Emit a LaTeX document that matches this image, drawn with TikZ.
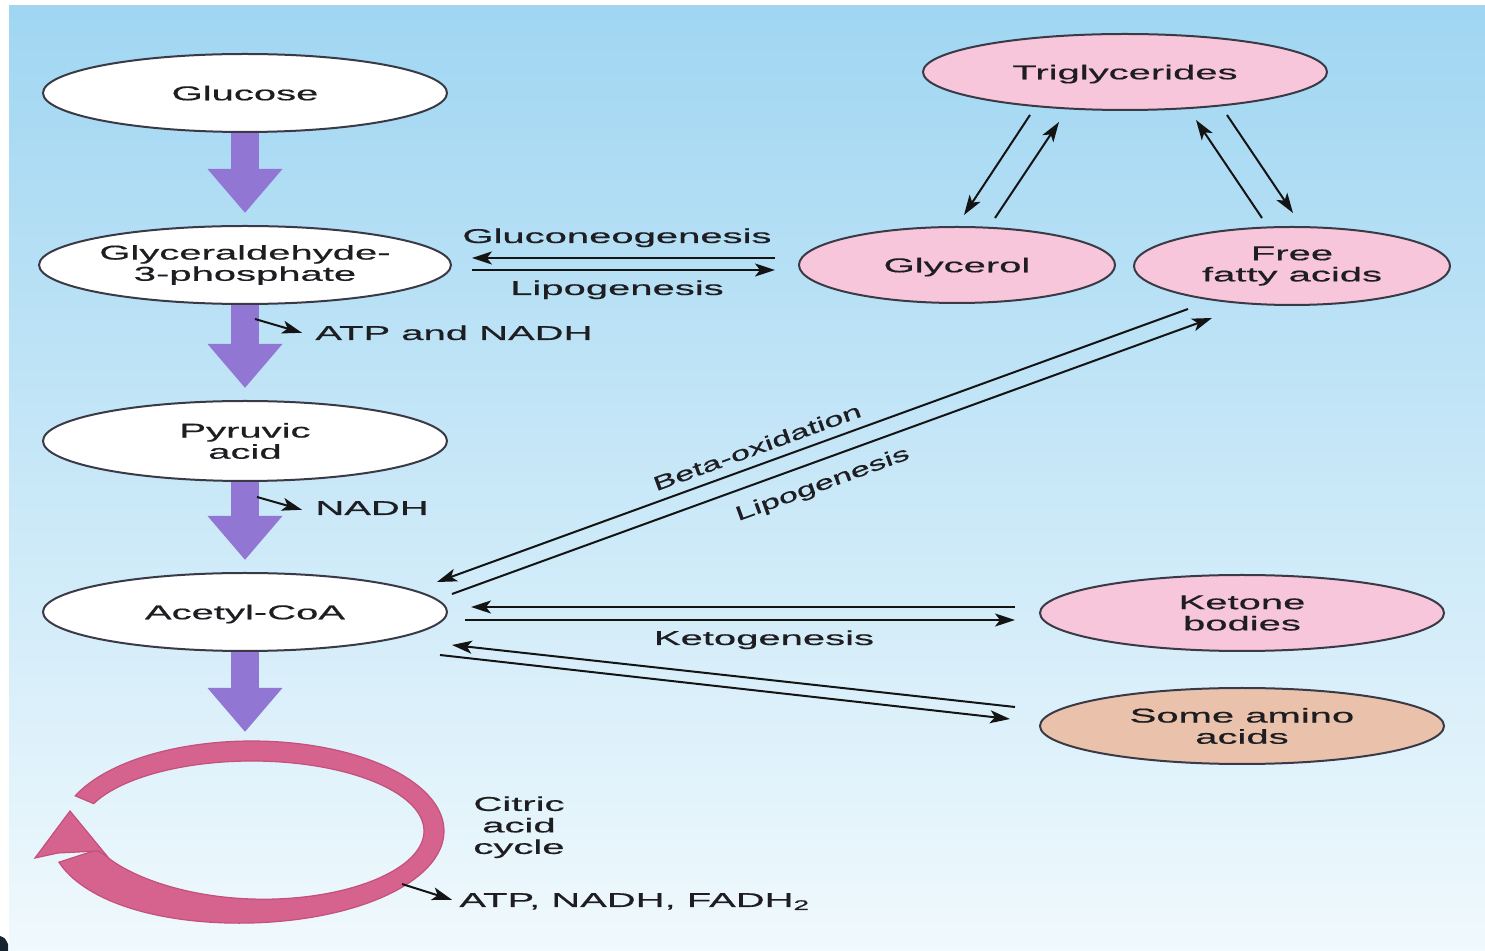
\documentclass[tikz,border=0pt]{standalone}
\usepackage{fontspec}
\newfontfamily\lblfont[FakeStretch=2.0,FakeBold=0.5]{Liberation Sans}
\newfontfamily\rotfont[FakeStretch=1.72,FakeBold=0.5]{Liberation Sans}
\usetikzlibrary{shapes.geometric,arrows.meta,calc}
\definecolor{bgtop}{HTML}{A0D6F2}
\definecolor{bgmid}{HTML}{C6E8F8}
\definecolor{bgbot}{HTML}{F0F9FD}
\definecolor{txt}{HTML}{1E1E22}
\definecolor{edge}{HTML}{3A3A46}
\definecolor{pinkc}{HTML}{F8C6DA}
\definecolor{tanc}{HTML}{EAC2AC}
\definecolor{purp}{HTML}{9177D3}
\definecolor{ringcol}{HTML}{D6638D}
\definecolor{ringdk}{HTML}{C4517B}
\definecolor{darkc}{HTML}{15232F}
\tikzset{
  ovbase/.style={ellipse, draw=edge, line width=1pt, inner sep=0pt, align=center,
    text=txt, font=\lblfont\fontsize{10}{10.6}\selectfont},
  ov/.style={ovbase, text height=7.3pt, text depth=0pt},
  ov2/.style={ovbase},
  wov/.style={fill=white},
  pov/.style={fill=pinkc},
  tov/.style={fill=tanc},
  lbl/.style={inner sep=0pt, text=txt, font=\lblfont\fontsize{10}{10.5}\selectfont,
    text height=7.2pt, text depth=0pt},
  rotlbl/.style={inner sep=0pt, text=txt, font=\rotfont\fontsize{10}{10.5}\selectfont,
    text height=7.2pt, text depth=0pt},
  arr/.style={draw=black!92, line width=1pt, -{Stealth[length=10pt,width=6.5pt,inset=2.5pt]}},
  fat/.style={draw=purp, line width=14pt, -{Triangle[length=22pt,width=36pt]}},
}
\begin{document}
\begin{tikzpicture}[x=0.5pt,y=-0.5pt,
  declare function={rw(\t)=20+22*exp(-((\t+162)/55)^2);}]
\useasboundingbox (0,0) rectangle (1485,951);
\fill[white] (0,0) rectangle (1485,951);
\shade[top color=bgtop, middle color=bgmid, bottom color=bgbot] (9,6) rectangle (1485,951);
\fill[darkc] (0,936) .. controls (5,938) .. (8,944) -- (8,951) -- (0,951) -- cycle;

% left column
\node[ov, wov, minimum width=202pt, minimum height=39pt] (glucose) at (245,93) {Glucose};
\node[ov2, wov, minimum width=202pt, minimum height=39pt] (g3p) at (245,265) {Glyceraldehyde-\\3-phosphate};
\node[ov2, wov, minimum width=202pt, minimum height=40pt] (pyr) at (245,441) {Pyruvic\\acid};
\node[ov, wov, minimum width=202pt, minimum height=39pt] (acoa) at (245,612) {Acetyl-CoA};

% right side
\node[ov, pov, minimum width=202pt, minimum height=38pt] (tri) at (1125,72) {Triglycerides};
\node[ov, pov, minimum width=158pt, minimum height=38pt] (gly) at (957,265) {Glycerol};
\node[ov2, pov, minimum width=158pt, minimum height=39pt] (ffa) at (1292,266) {Free\\fatty acids};
\node[ov2, pov, minimum width=202pt, minimum height=38pt] (ket) at (1242,613) {Ketone\\bodies};
\node[ov2, tov, minimum width=202pt, minimum height=38pt] (amino) at (1242,726) {Some amino\\acids};

% citric acid cycle ring (tapered band)
\fill[ringcol, draw=ringdk, line width=0.6pt]
  plot[domain=157:-162, samples=160] ({252+(182+rw(\x)/2)*cos(\x)},{831-(80+rw(\x)/2)*sin(\x)})
  -- plot[domain=-162:157, samples=160] ({252+(182-rw(\x)/2)*cos(\x)},{831-(80-rw(\x)/2)*sin(\x)})
  -- cycle;
\fill[ringcol, draw=ringdk, line width=0.6pt] (35,858) -- (70,811) -- (107,856) -- (98,851) -- (58,853) -- cycle;
\coordinate (ringtop) at (245,732);
\coordinate (ringpt) at (402,884);

% fat purple arrows
\draw[fat] (glucose.south) -- ($(g3p.north)+(0,-12)$);
\draw[fat] (g3p.south) -- ($(pyr.north)+(0,-12)$);
\draw[fat] (pyr.south) -- ($(acoa.north)+(0,-12)$);
\draw[fat] (acoa.south) -- (ringtop);

% labels
\node[lbl, anchor=base] (glucoLbl) at (617,243) {Gluconeogenesis};
\node[lbl, anchor=base] (lipoLbl) at (617,295) {Lipogenesis};
\node[lbl, anchor=base west] (atp1) at (315,340) {ATP and NADH};
\node[lbl, anchor=base west] (nadh) at (315,515) {NADH};
\node[lbl, anchor=base] (ketoLbl) at (764,645) {Ketogenesis};
\node[inner sep=0pt, text=txt, font=\lblfont\fontsize{10}{10.75}\selectfont, align=center, anchor=north] (citric) at (519,796) {Citric\\acid\\cycle};
\node[lbl, anchor=base west] (atp2) at (459,907) {ATP, NADH, FADH\textsubscript{2}};
\node[rotlbl, rotate=20] (betaLbl) at (757,447) {Beta-oxidation};
\node[rotlbl, rotate=20] (lipo2Lbl) at (822,483) {Lipogenesis};

% small product arrows
\draw[arr] ($(g3p.south)+(10,14)$) -- ($(atp1.west)+(-13,0)$);
\draw[arr] ($(pyr.south)+(12,15)$) -- ($(nadh.west)+(-13,2)$);
\draw[arr] (ringpt) -- ($(atp2.west)+(-7,0)$);

% glyceraldehyde <-> glycerol
\draw[arr] ($(gly.west)+(-23,-7)$) -- ($(g3p.east)+(20,-7)$);
\draw[arr] ($(g3p.east)+(20,5)$) -- ($(gly.west)+(-23,5)$);

% triglycerides <-> glycerol / free fatty acids
\draw[arr] ($(tri.center)+(-95,43)$) -- ($(gly.center)+(7,-50)$);
\draw[arr] ($(gly.center)+(38,-47)$) -- ($(tri.center)+(-66,50)$);
\draw[arr] ($(ffa.center)+(-30,-48)$) -- ($(tri.center)+(71,48)$);
\draw[arr] ($(tri.center)+(102,43)$) -- ($(ffa.center)+(1,-53)$);

% beta-oxidation / lipogenesis
\draw[arr] ($(ffa.center)+(-104,43)$) -- ($(acoa.center)+(192,-30)$);
\draw[arr] ($(acoa.center)+(207,-18)$) -- ($(ffa.center)+(-80,52)$);

% ketone bodies
\draw[arr] ($(ket.center)+(-227,-6)$) -- ($(acoa.center)+(226,-5)$);
\draw[arr] ($(acoa.center)+(220,8)$) -- ($(ket.center)+(-227,7)$);

% amino acids
\draw[arr] ($(amino.center)+(-227,-19)$) -- ($(acoa.center)+(207,33)$);
\draw[arr] ($(acoa.center)+(195,43)$) -- ($(amino.center)+(-232,-7)$);
\end{tikzpicture}
\end{document}
